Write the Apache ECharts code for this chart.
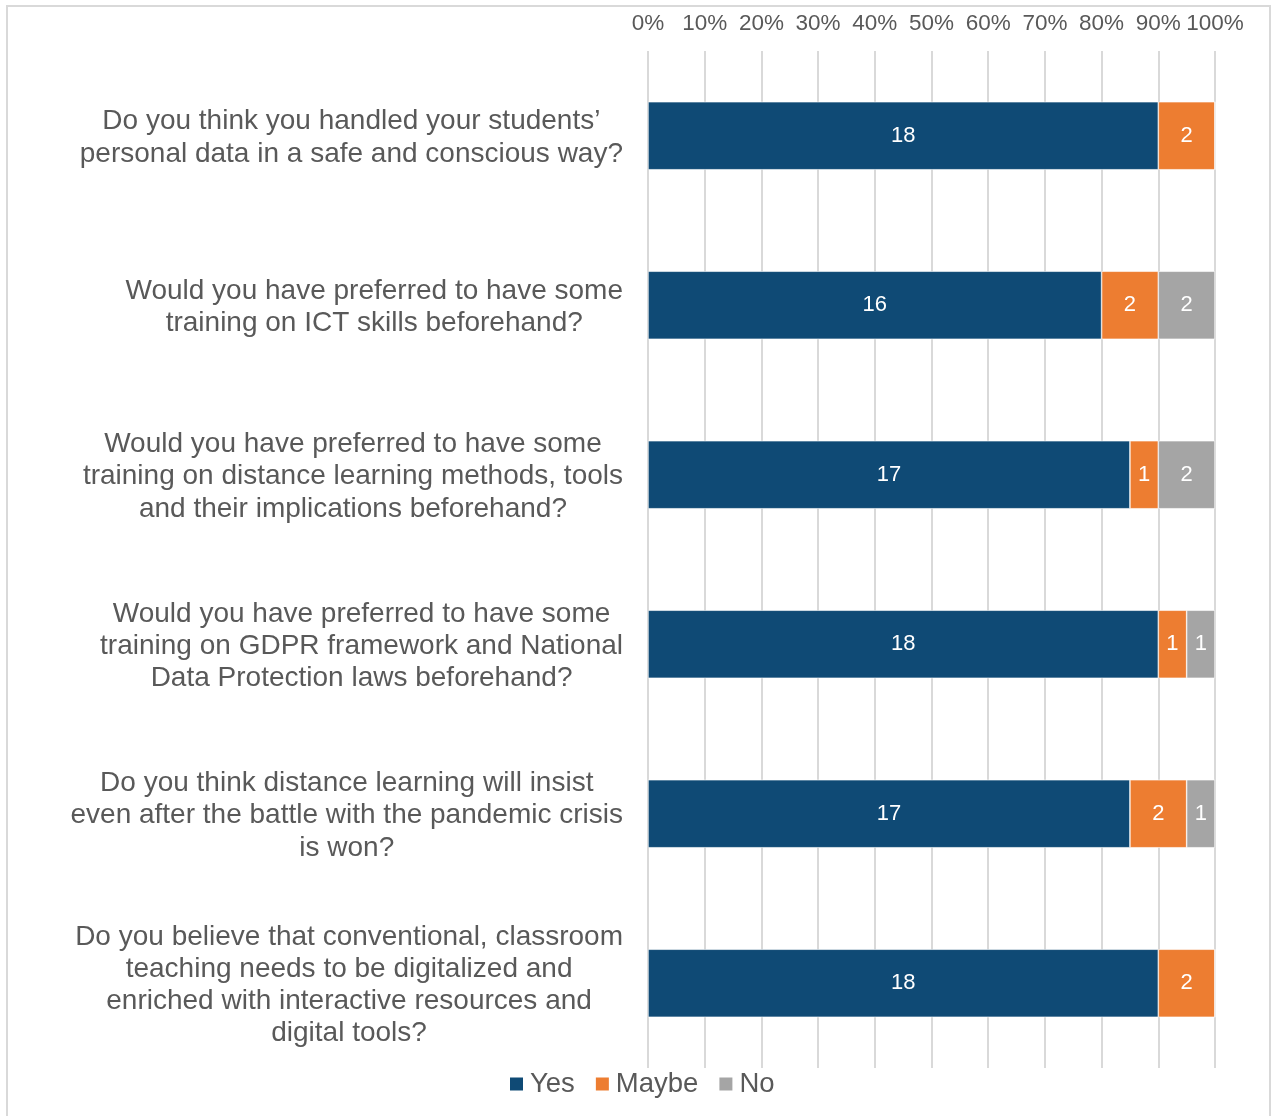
<!DOCTYPE html>
<html><head><meta charset="utf-8">
<script src="https://cdn.jsdelivr.net/npm/echarts@6/dist/echarts.min.js"></script>
<style>html,body{margin:0;padding:0;background:#fff}#c{width:1273px;height:1116px}</style>
</head><body><div id="c"></div>
<script>
const categories = [
  "Do you think you handled your students’\npersonal data in a safe and conscious way?",
  "Would you have preferred to have some\ntraining on ICT skills beforehand?",
  "Would you have preferred to have some\ntraining on distance learning methods, tools\nand their implications beforehand?",
  "Would you have preferred to have some\ntraining on GDPR framework and National\nData Protection laws beforehand?",
  "Do you think distance learning will insist\neven after the battle with the pandemic crisis\nis won?",
  "Do you believe that conventional, classroom\nteaching needs to be digitalized and\nenriched with interactive resources and\ndigital tools?"
];
const yesValues = [18, 16, 17, 18, 17, 18];
const maybeValues = [2, 2, 1, 1, 2, 2];
const noValues = [0, 2, 2, 1, 1, 0];
const seriesNames = ["Yes", "Maybe", "No"];
const totalRespondents = 20;

const colors = ["#0F4A75", "#ED7D31", "#A5A5A5"];
const chart = echarts.init(document.getElementById('c'), null, {renderer: 'canvas'});
const FONT = "'Liberation Sans', Arial, sans-serif";

function mk(name, data, color) {
  return {
    name: name, type: 'bar', stack: 'all', data: data, barWidth: 68,
    itemStyle: {color: color, borderColor: '#ffffff', borderWidth: 0.6},
    label: {show: true, position: 'inside', color: '#ffffff', fontSize: 22, fontFamily: FONT,
      formatter: p => p.value ? String(p.value) : ''},
    emphasis: {disabled: true}
  };
}

chart.setOption({
  animation: false,
  textStyle: {fontFamily: FONT},
  graphic: [{type: 'rect', shape: {x: 7, y: 6, width: 1263, height: 1130},
    style: {fill: 'none', stroke: '#d9d9d9', lineWidth: 2}, silent: true}],
  grid: {left: 648, right: 58, top: 51, bottom: 48, containLabel: false},
  legend: {
    data: seriesNames, left: 503, top: 1065, itemWidth: 15, itemHeight: 15, itemGap: 19,
    icon: 'rect', textStyle: {fontSize: 27.5, color: '#595959', fontFamily: FONT, padding: [0,0,0,1]}
  },
  xAxis: {
    type: 'value', position: 'top', min: 0, max: totalRespondents, interval: 2,
    axisLine: {show: false}, axisTick: {show: false},
    splitLine: {show: true, lineStyle: {color: '#d9d9d9', width: 2}},
    axisLabel: {fontSize: 22.5, color: '#595959', margin: 16, hideOverlap: false,
      formatter: v => Math.round(v / totalRespondents * 100) + '%'}
  },
  yAxis: {
    type: 'category', inverse: true, data: categories,
    axisLine: {show: false}, axisTick: {show: false},
    axisLabel: {
      margin: 25, align: 'right', color: '#595959', fontSize: 28, lineHeight: 32.3,
      padding: [4, 0, 0, 0],
      formatter: v => v.split('\n').map(l => '{c|' + l + '}').join('\n'),
      rich: {c: {align: 'center', fontSize: 28, lineHeight: 32.3, color: '#595959', fontFamily: FONT}}
    }
  },
  series: [mk(seriesNames[0], yesValues, colors[0]), mk(seriesNames[1], maybeValues, colors[1]), mk(seriesNames[2], noValues, colors[2])]
});
</script></body></html>
